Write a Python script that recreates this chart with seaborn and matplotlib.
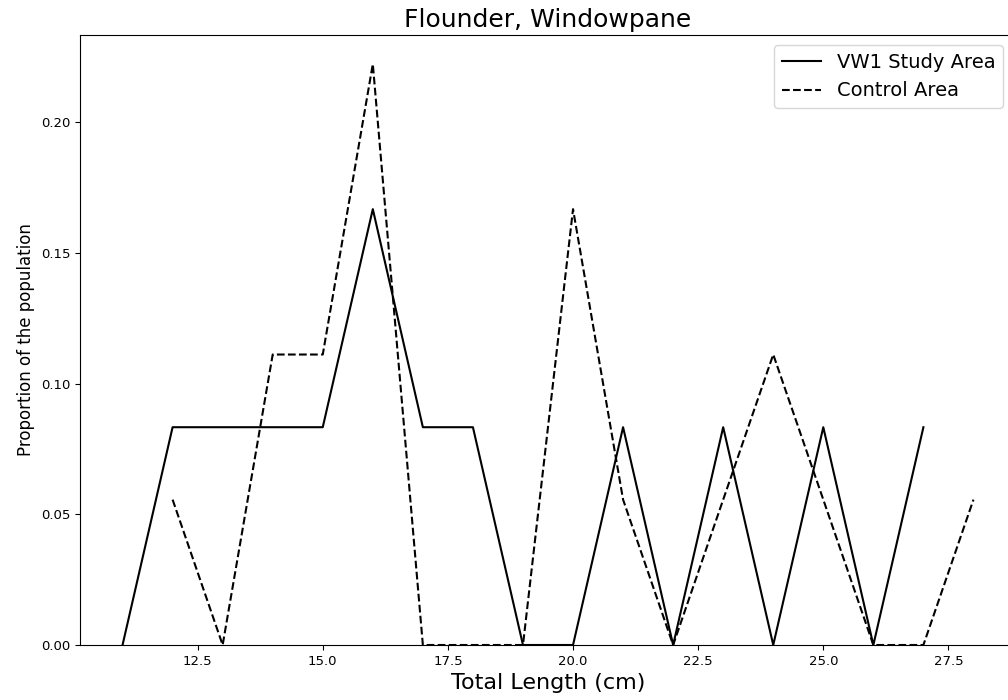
import matplotlib
matplotlib.use("Agg")
import matplotlib.pyplot as plt
import seaborn as sns
import pandas as pd

study_lengths = [11, 12, 13, 14, 15, 16, 17, 18, 19, 20, 21, 22, 23, 24, 25, 26, 27]
study_props = [0.0, 0.0833, 0.0833, 0.0833, 0.0833, 0.1667, 0.0833, 0.0833, 0.0,
               0.0, 0.0833, 0.0, 0.0833, 0.0, 0.0833, 0.0, 0.0833]
control_lengths = [12, 13, 14, 15, 16, 17, 18, 19, 20, 21, 22, 23, 24, 25, 26, 27, 28]
control_props = [0.0556, 0.0, 0.1111, 0.1111, 0.2222, 0.0, 0.0, 0.0, 0.1667,
                 0.0556, 0.0, 0.0556, 0.1111, 0.0556, 0.0, 0.0, 0.0556]

study_df = pd.DataFrame({"length": study_lengths, "prop": study_props})
control_df = pd.DataFrame({"length": control_lengths, "prop": control_props})

fig = plt.figure(figsize=(10.08, 7.0), dpi=100)
ax = fig.add_axes([80 / 1008, 55 / 700, (1016 - 80) / 1008, (645 - 35) / 700])

sns.lineplot(data=study_df, x="length", y="prop", ax=ax, color="black",
             linestyle="-", linewidth=1.5, label="VW1 Study Area")
sns.lineplot(data=control_df, x="length", y="prop", ax=ax, color="black",
             linestyle="--", linewidth=1.5, label="Control Area")

ax.set_ylim(0, None)
ax.set_title("Flounder, Windowpane", fontsize=18)
ax.set_xlabel("Total Length (cm)", fontsize=16)
ax.set_ylabel("Proportion of the population", fontsize=12)
ax.tick_params(labelsize=9.5)
ax.legend(loc="upper right", fontsize=14, borderaxespad=0,
          bbox_to_anchor=((1003 - 80) / 936, (645 - 45) / 610))

fig.savefig("out.png", dpi=100)
